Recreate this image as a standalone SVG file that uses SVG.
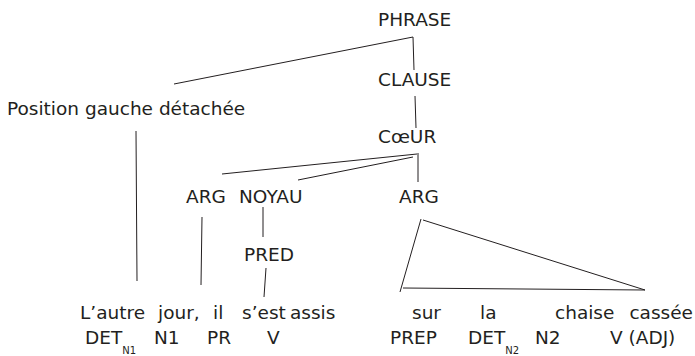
<svg xmlns="http://www.w3.org/2000/svg" width="695" height="356" viewBox="0 0 695 356">
<style>
text{font-family:"DejaVu Sans","Liberation Sans",sans-serif;font-size:18.5px;fill:#231f20}
.sub{font-size:10px}
.ln{stroke:#231f20;stroke-width:1;fill:none}
</style>
<rect width="695" height="356" fill="#fff"/>
<g id="connectors">
<line class="ln" x1="413" y1="37" x2="414" y2="70"/>
<line class="ln" x1="413" y1="37" x2="174" y2="84"/>
<line class="ln" x1="415" y1="96" x2="416" y2="128"/>
<line class="ln" x1="136" y1="131" x2="137" y2="281"/>
<line class="ln" x1="417" y1="154" x2="222" y2="174"/>
<line class="ln" x1="413" y1="157" x2="298" y2="180"/>
<line class="ln" x1="418" y1="153" x2="418" y2="182"/>
<line class="ln" x1="202" y1="217" x2="201" y2="285"/>
<line class="ln" x1="263" y1="207" x2="263" y2="237"/>
<line class="ln" x1="266" y1="268" x2="264" y2="297"/>
<polyline class="ln" points="421,219 400,292"/>
<polyline class="ln" points="423,220 645,290 403,288"/>
</g>
<g id="phrase"><text x="378" y="26">PHRASE</text></g>
<g id="clause"><text x="378" y="86">CLAUSE</text></g>
<g id="position"><text x="7" y="115">Position gauche détachée</text></g>
<g id="coeur"><text x="378" y="143">CœUR</text></g>
<g id="arg1"><text x="186" y="203">ARG</text></g>
<g id="noyau"><text x="239" y="203">NOYAU</text></g>
<g id="arg2"><text x="399" y="203">ARG</text></g>
<g id="pred"><text x="244" y="261">PRED</text></g>
<g id="words">
<text x="80" y="319">L’autre</text>
<text x="158" y="319">jour,</text>
<text x="213" y="319">il</text>
<text x="242" y="319">s’est</text>
<text x="290" y="319">assis</text>
<text x="412" y="319">sur</text>
<text x="480" y="319">la</text>
<text x="555" y="319">chaise</text>
<text x="693" y="319" text-anchor="end">cassée</text>
</g>
<g id="tags">
<text x="85" y="344">DET<tspan class="sub" dy="10">N1</tspan></text>
<text x="154" y="344">N1</text>
<text x="207" y="344">PR</text>
<text x="267" y="344">V</text>
<text x="390" y="344">PREP</text>
<text x="468" y="344">DET<tspan class="sub" dy="10">N2</tspan></text>
<text x="535" y="344">N2</text>
<text x="610" y="344">V (ADJ)</text>
</g>
</svg>
